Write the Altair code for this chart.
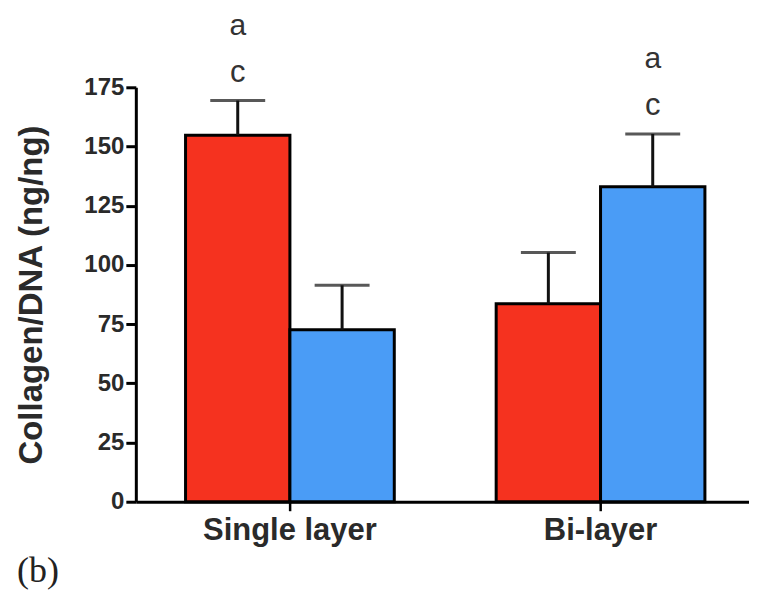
import altair as alt
import pandas as pd

groups = ["Single layer", "Single layer", "Bi-layer", "Bi-layer"]
series = ["Series 1", "Series 2", "Series 1", "Series 2"]
means = [154.8, 72.6, 83.6, 133.0]
errs = [169.4, 91.4, 105.2, 155.3]
letter_low = ["c", "", "", "c"]
letter_high = ["a", "", "", "a"]

group_order = ["Single layer", "Bi-layer"]
series_order = ["Series 1", "Series 2"]
colors = ["#f5321f", "#4a9cf6"]

df = pd.DataFrame({
    "group": groups, "series": series, "mean": means, "err": errs,
    "low": letter_low, "high": letter_high,
})

FONT = "Liberation Sans"

x = alt.X("group:N", sort=group_order,
          scale=alt.Scale(paddingInner=0.328, paddingOuter=0.151, align=0.53),
          axis=alt.Axis(title=None, labelAngle=0, labelFont=FONT, labelFontWeight="bold",
                        labelFontSize=31, labelColor="#2a2a2a", labelPadding=5,
                        domainWidth=3, domainColor="#000", tickColor="#000",
                        tickWidth=2.5, tickSize=9, grid=False))
xo = alt.XOffset("series:N", sort=series_order,
                 scale=alt.Scale(paddingInner=0, paddingOuter=0))

base = alt.Chart(df)

bars = base.mark_bar(stroke="#000", strokeWidth=3, clip=False).encode(
    x=x, xOffset=xo,
    y=alt.Y("mean:Q", scale=alt.Scale(domain=[0, 175], nice=False),
            axis=alt.Axis(values=[0, 25, 50, 75, 100, 125, 150, 175],
                          title="Collagen/DNA (ng/ng)", titleFont=FONT,
                          titleFontWeight="bold", titleFontSize=33, titleColor="#2a2a2a",
                          titlePadding=35, labelFont=FONT, labelFontWeight="bold",
                          labelFontSize=24, labelColor="#2a2a2a", labelPadding=2,
                          domainWidth=3, domainColor="#000", tickColor="#000",
                          tickWidth=3, tickSize=10, grid=False)),
    color=alt.Color("series:N", sort=series_order,
                    scale=alt.Scale(domain=series_order, range=colors), legend=None),
)

rules = base.mark_rule(color="#111", strokeWidth=3).encode(
    x=x, xOffset=xo, y="mean:Q", y2="err:Q")

caps = base.mark_tick(color="#111", thickness=3, size=55, orient="horizontal").encode(
    x=x, xOffset=xo, y="err:Q")

low = base.mark_text(font=FONT, fontSize=31, color="#333", baseline="middle",
                     dy=-28, clip=False).encode(
    x=x, xOffset=xo, y="err:Q", text="low:N")

high = base.mark_text(font=FONT, fontSize=30, color="#333", baseline="middle",
                      dy=-75, clip=False).encode(
    x=x, xOffset=xo, y="err:Q", text="high:N")

label_b = alt.Chart(pd.DataFrame({"t": ["(b)"]})).mark_text(
    font="Liberation Serif", fontSize=36, color="#222", align="left",
    baseline="middle").encode(
    x=alt.value(-119), y=alt.value(484), text="t:N")

chart = alt.layer(bars, rules, caps, low, high, label_b).properties(
    width=614, height=415,
    background="white",
    autosize=alt.AutoSizeParams(type="none"),
    padding={"left": 128, "top": 79, "right": 0, "bottom": 95},
).configure_view(stroke=None, strokeWidth=0).configure_axis(grid=False)

chart.save("out.html", embed_options={"renderer": "svg", "actions": False})
